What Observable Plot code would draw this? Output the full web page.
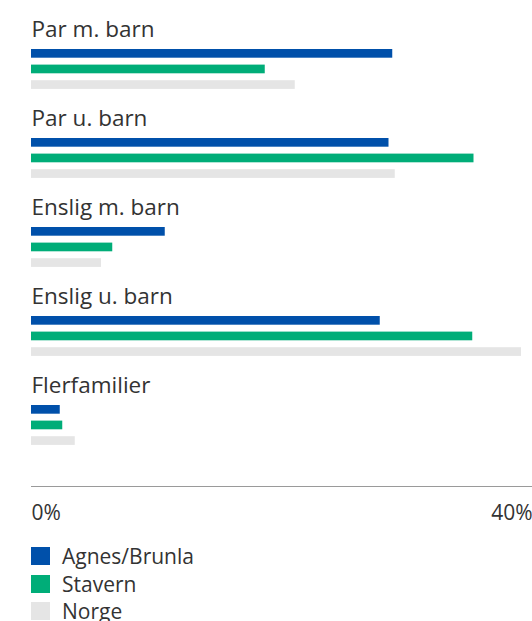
<!DOCTYPE html>
<html>
<head>
<meta charset="utf-8">
<script src="https://cdn.jsdelivr.net/npm/d3@7"></script>
<script src="https://cdn.jsdelivr.net/npm/@observablehq/plot@0.6"></script>
<style>
  html, body { margin: 0; padding: 0; background: #fff; }
  body { font-family: "Open Sans", "Noto Sans", sans-serif; color: #333; width: 532px; overflow: hidden; }
  #chart svg { display: block; }
  #legend { margin-top: 12px; padding-left: 31px; }
  .item { display: flex; align-items: center; height: 27.7px; font-size: 21px; color: #333; }
  .sw { width: 19px; height: 18px; margin-right: 12px; flex: none; }
</style>
</head>
<body>
<div id="chart"></div>
<div id="legend"></div>
<script>
const categories = ["Par m. barn", "Par u. barn", "Enslig m. barn", "Enslig u. barn", "Flerfamilier"];
const series = ["Agnes/Brunla", "Stavern", "Norge"];
const colors = ["#0050aa", "#00ad78", "#e5e5e5"];
const agnes   = [28.9, 28.6, 10.7, 27.9, 2.3];
const stavern = [18.7, 35.4, 6.5, 35.3, 2.5];
const norge   = [21.1, 29.1, 5.6, 39.2, 3.5];
const xTicks = [0, 40];

const valuesBySeries = [agnes, stavern, norge];
const data = series.flatMap((s, k) => categories.map((c, i) => ({category: c, series: s, value: valuesBySeries[k][i]})));

const bandH = 89.7, barH = 9.4, barStep = 15.6, firstOffset = 31;
const barMarks = series.map((s, k) => {
  const top = firstOffset + k * barStep;
  return Plot.barX(data.filter(d => d.series === s), {
    y: "category", x: "value", fill: colors[k],
    insetTop: top, insetBottom: bandH - top - barH
  });
});

const chart = Plot.plot({
  width: 532,
  height: 530,
  marginLeft: 31,
  marginRight: 1,
  marginTop: 16.3,
  marginBottom: 44,
  style: {fontFamily: "'Open Sans', 'Noto Sans', sans-serif", color: "#333", background: "#fff", overflow: "visible"},
  x: {domain: [0, 40], axis: null},
  y: {domain: categories, padding: 0, insetBottom: 21.2, axis: null},
  marks: [
    ...barMarks,
    Plot.text(categories, {
      y: d => d, text: d => d, frameAnchor: "left", textAnchor: "start",
      lineAnchor: "bottom", dy: -26, fontSize: 22.5, fill: "#333"
    }),
    Plot.frame({anchor: "bottom", stroke: "#9a9a9a"}),
    Plot.axisX([xTicks[0]], {anchor: "bottom", label: null, tickSize: 0, tickPadding: 19, textAnchor: "start",
      tickFormat: d => d + "%", fontSize: 21, fill: "#333"}),
    Plot.axisX([xTicks[1]], {anchor: "bottom", label: null, tickSize: 0, tickPadding: 19, textAnchor: "end", dx: 1,
      tickFormat: d => d + "%", fontSize: 21, fill: "#333"})
  ]
});
document.getElementById("chart").appendChild(chart);

const legend = document.getElementById("legend");
series.forEach((s, k) => {
  const item = document.createElement("div");
  item.className = "item";
  const sw = document.createElement("span");
  sw.className = "sw";
  sw.style.background = colors[k];
  const label = document.createElement("span");
  label.textContent = s;
  item.appendChild(sw);
  item.appendChild(label);
  legend.appendChild(item);
});
</script>
</body>
</html>
